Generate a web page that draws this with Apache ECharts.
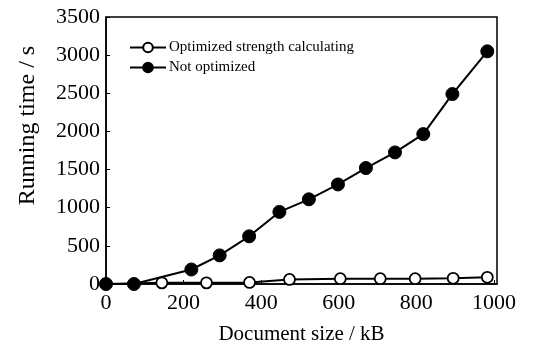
<!DOCTYPE html>
<html>
<head>
<meta charset="utf-8">
<script src="https://cdn.jsdelivr.net/npm/echarts@6/dist/echarts.min.js"></script>
<style>
    html, body { margin: 0; padding: 0; background: #fff; }
    #chart { width: 546px; height: 344px; }
</style>
</head>
<body>
<div id="chart"></div>
<script>
// document size (kB) and running time (s)
const optSize = [0, 144, 259, 370, 473, 604, 707, 797, 895, 983];
const optTime = [0, 15, 15, 20, 60, 70, 70, 70, 75, 88];
const notOptSize = [0, 72, 220, 293, 369, 447, 523, 598, 670, 745, 818, 893, 983];
const notOptTime = [0, 0, 190, 375, 625, 945, 1110, 1305, 1520, 1725, 1965, 2490, 3050];
const seriesNames = ["Optimized strength calculating", "Not optimized"];

const font = "'Liberation Serif', 'Times New Roman', serif";

function pairs(xs, ys) {
    return xs.map((x, i) => [x, ys[i]]);
}

const chart = echarts.init(document.getElementById("chart"));
chart.setOption({
    animation: false,
    textStyle: { fontFamily: font, color: "#000" },
    grid: {
        left: 106,
        right: 49,
        top: 17,
        bottom: 60,
        outerBoundsMode: "none",
        containLabel: false,
        show: true,
        borderColor: "#000",
        borderWidth: 1.5
    },
    legend: {
        orient: "vertical",
        left: 124,
        top: 35,
        itemWidth: 36,
        itemHeight: 12,
        itemGap: 5,
        textStyle: { fontFamily: font, fontSize: 15, color: "#000", padding: [0, 0, 0, -2] },
        data: seriesNames
    },
    xAxis: {
        type: "value",
        min: 0,
        max: 1008,
        interval: 200,
        name: "Document size / kB",
        nameLocation: "middle",
        nameGap: 40,
        nameTextStyle: { fontFamily: font, fontSize: 21, color: "#000" },
        axisLine: { lineStyle: { color: "#000", width: 1.5 } },
        axisTick: { inside: true, length: 4, lineStyle: { color: "#000" } },
        axisLabel: {
            fontFamily: font, fontSize: 22, color: "#000", margin: 8,
            showMaxLabel: false,
            formatter: v => String(v)
        },
        splitLine: { show: false }
    },
    yAxis: {
        type: "value",
        min: 0,
        max: 3500,
        interval: 500,
        name: "Running time / s",
        nameLocation: "middle",
        nameGap: 66,
        nameTextStyle: { fontFamily: font, fontSize: 24, color: "#000", padding: [0, 0, 0, 50] },
        axisLine: { show: true, lineStyle: { color: "#000", width: 1.5 } },
        axisTick: { show: true, inside: true, length: 4, lineStyle: { color: "#000" } },
        axisLabel: { fontFamily: font, fontSize: 22, color: "#000", margin: 6, formatter: v => String(v) },
        splitLine: { show: false }
    },
    series: [
        {
            name: seriesNames[0],
            type: "line",
            z: 2,
            data: pairs(optSize, optTime),
            symbol: "circle",
            symbolSize: 11,
            showAllSymbol: true,
            lineStyle: { color: "#000", width: 2 },
            itemStyle: { color: "#fff", borderColor: "#000", borderWidth: 1.8 }
        },
        {
            name: seriesNames[1],
            type: "line",
            z: 3,
            data: pairs(notOptSize, notOptTime),
            symbol: "circle",
            symbolSize: 13,
            showAllSymbol: true,
            lineStyle: { color: "#000", width: 2 },
            itemStyle: { color: "#000", borderColor: "#000", borderWidth: 1 }
        }
    ]
});
</script>
</body>
</html>
